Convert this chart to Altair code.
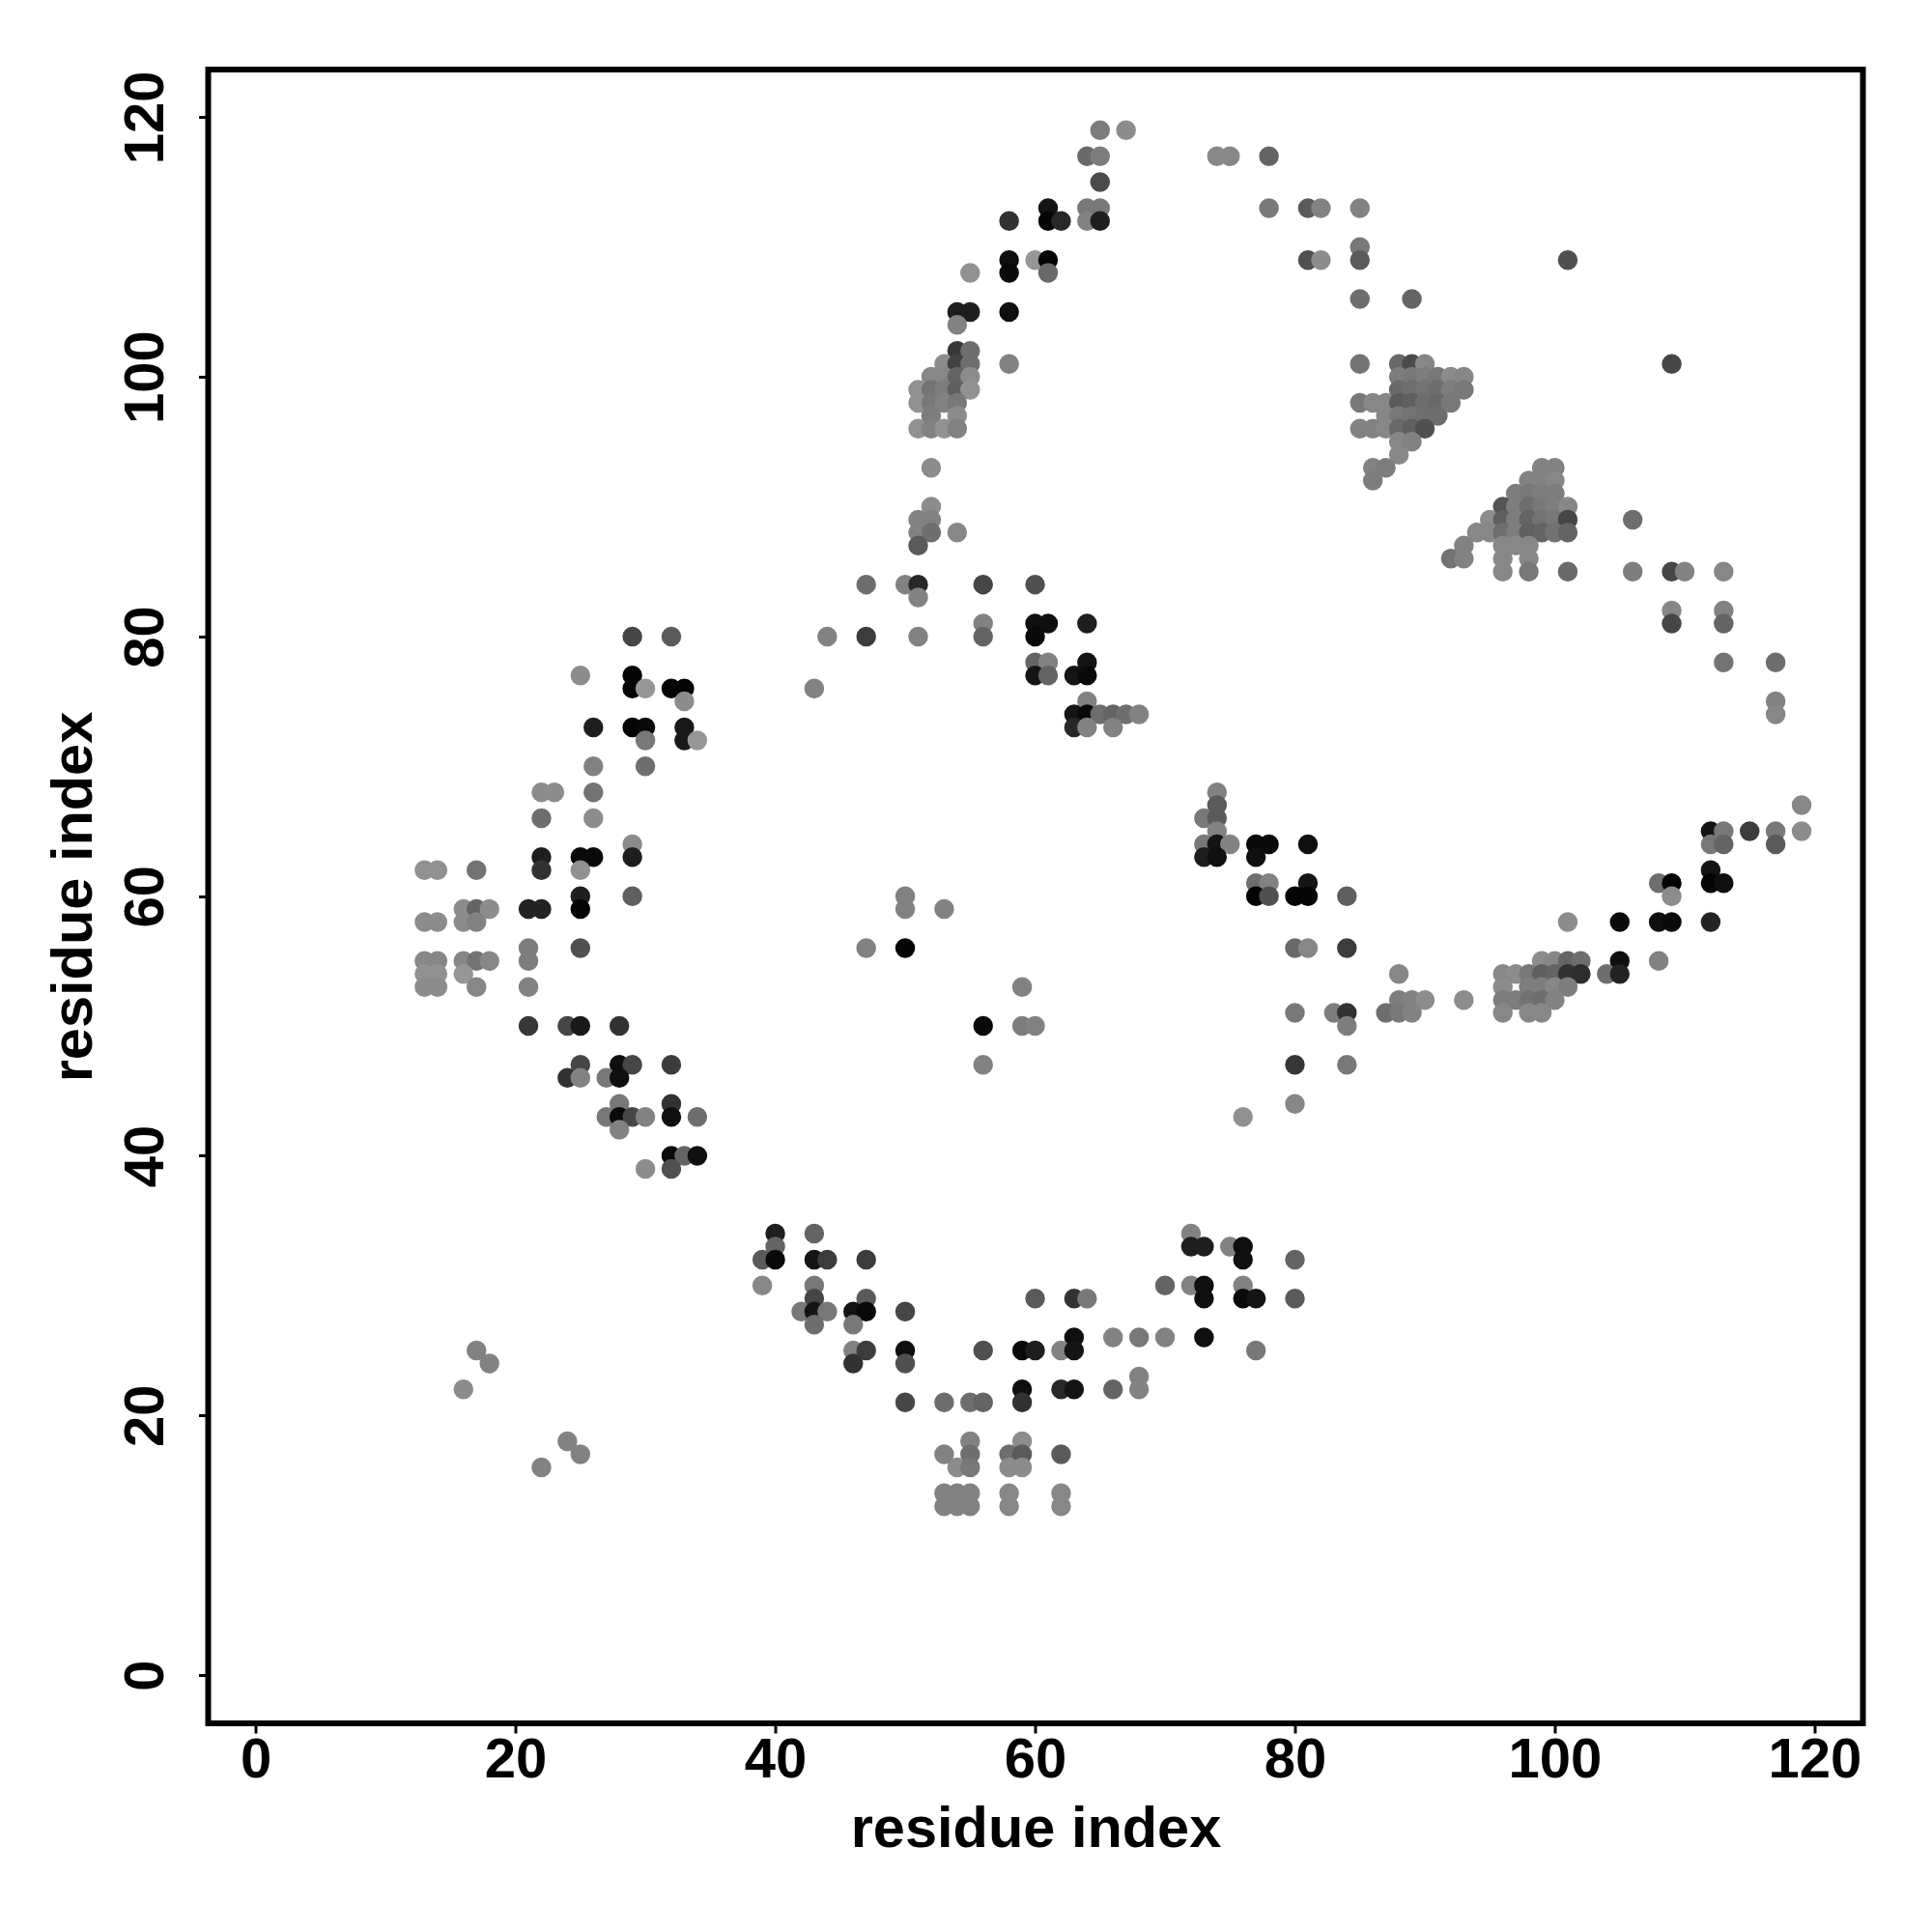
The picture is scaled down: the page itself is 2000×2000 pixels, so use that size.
import altair as alt
import pandas as pd

tick_values = [0, 20, 40, 60, 80, 100, 120]

rows_y = [119,117,115,113,112,110,109,108,106,105,104,102,101,100,99,98,97,96,95,94,93,92,91,90,89,88,87,86,85,84,83,82,81,80,78,77,76,75,74,73,72,70,68,67,66,65,64,63,62,61,60,59,58,56,55,54,53,52,51,50,47,46,44,43,42,40,39,34,33,32,30,29,28,27,26,25,24,23,22,21,18,17,16,14,13]

rows_x = [
 [65,67],
 [64,65,74,75,78],
 [65],
 [61,64,65,78,81,82,85],
 [58,61,62,64,65],
 [85],
 [58,60,61,81,82,85,101],
 [55,58,61],
 [85,89],
 [54,55,58],
 [54],
 [54,55],
 [53,54,55,58,85,88,89,90,109],
 [52,53,54,55,88,89,90,91,92,93],
 [51,52,53,54,55,88,89,90,91,92,93],
 [51,52,53,54,85,86,87,88,89,90,91,92],
 [52,54,87,88,89,90,91],
 [51,52,53,54,85,86,87,88,89,90],
 [88,89],
 [88],
 [52,86,87,99,100],
 [86,98,99,100],
 [97,98,99,100],
 [52,96,97,98,99,100,101],
 [51,52,95,96,97,98,99,100,101,106],
 [51,52,54,94,95,96,97,98,99,100,101],
 [51,93,96,97,98],
 [92,93,96,98],
 [96,98,101,106,109,110,113],
 [47,50,51,56,60],
 [51],
 [109,113],
 [56,60,61,64,109,113],
 [29,32,44,47,51,56,60],
 [60,61,64,113,117],
 [25,29,60,61,63,64],
 [29,30,32,33,43],
 [33,64,117],
 [63,64,65,66,67,68,117],
 [26,29,30,33,63,64,66],
 [30,33,34],
 [26,30],
 [22,23,26,74],
 [74,119],
 [22,26,73,74],
 [74,112,113,115,117,119],
 [29,73,74,75,77,78,81,112,113,117],
 [22,25,26,29,73,74,77],
 [13,14,17,22,25,112],
 [77,78,81,108,109,112,113],
 [25,29,50,77,78,80,81,84,109],
 [16,17,18,21,22,25,50,53],
 [13,14,16,17,101,105,108,109,112],
 [21,25,47,50,80,81,84],
 [13,14,16,17,18,21,99,100,101,102,105,108],
 [13,14,16,88,96,97,98,99,100,101,102,104,105],
 [13,14,17,21,59,96,98,99,100,101],
 [88,89,90,93,96,97,98,99,100],
 [80,83,84,87,88,89,96,98,99],
 [21,24,25,28,56,59,60,84],
 [25,28,29,32,56,80,84],
 [24,25,27,28],
 [28,32,80],
 [27,28,29,30,32,34,76],
 [28],
 [32,33,34],
 [30,32],
 [40,43,72],
 [40,72,73,75,76],
 [39,40,43,44,47,76,80],
 [39,43,70,72,73,76],
 [43,47,60,63,64,73,76,77,80],
 [42,43,44,46,47,50],
 [43,46],
 [63,66,68,70,73],
 [17,46,47,50,56,59,60,62,63,77],
 [18,46,50],
 [68],
 [16,59,62,63,66,68],
 [50,53,55,56,59],
 [24,55,59],
 [25,53,55,58,59,62],
 [22,54,55,58,59],
 [53,54,55,58,62],
 [53,54,55,58,62],
]

rows_grey = [
 [125,140],
 [105,125,135,135,100],
 [75],
 [20,120,120,120,90,130,130],
 [50,5,40,130,30],
 [120],
 [15,150,5,80,140,90,80],
 [145,10,105],
 [110,100],
 [30,30,15],
 [130],
 [55,110],
 [140,65,110,130,115,105,75,135,70],
 [135,135,100,140,125,120,125,120,140,135],
 [145,115,125,95,145,105,110,115,110,125,120],
 [145,120,130,120,120,135,135,90,95,110,105,120],
 [125,140,135,120,115,110,110],
 [145,130,145,130,130,130,135,105,95,80],
 [135,130],
 [135],
 [140,130,125,130,130],
 [125,130,130,135],
 [125,120,125,125],
 [140,85,125,110,120,125,135],
 [130,130,140,95,125,100,115,120,70,110],
 [130,110,135,135,135,110,125,95,100,115,100],
 [90,130,135,135,135],
 [115,130,135,135],
 [135,120,105,125,70,130,135],
 [110,130,40,70,80],
 [130],
 [135,130],
 [130,15,15,30,70,100],
 [70,90,130,60,130,100,10],
 [100,130,20,115,110],
 [140,5,20,100,20,10],
 [5,150,5,5,130],
 [140,130,130],
 [20,10,110,100,110,130,135],
 [30,5,10,25,40,130,130],
 [120,25,150],
 [130,110],
 [140,140,115,130],
 [90,135],
 [110,140,120,90],
 [130,20,120,60,120,140],
 [140,120,20,130,10,10,15,120,100,90],
 [30,10,10,30,30,15,15],
 [145,145,115,50,145,20],
 [110,130,20,110,5,5,15],
 [30,95,130,5,80,5,5,95,140],
 [140,100,140,35,35,5,130,130],
 [140,140,140,130,140,10,15,10,35],
 [125,80,130,5,105,135,60],
 [135,135,135,115,135,125,140,135,100,110,15,130],
 [145,145,150,135,135,140,120,95,100,50,45,110,35],
 [140,140,135,130,130,140,125,125,135,125],
 [125,130,140,140,125,125,115,110,130],
 [120,125,50,110,120,130,135,135,135],
 [55,70,25,50,10,125,130,125],
 [70,15,70,60,130,55,120],
 [50,130,120,15],
 [120,50,135],
 [120,10,70,130,15,110,145],
 [130],
 [10,100,15],
 [140,80],
 [30,100,130],
 [100,30,30,130,15],
 [90,10,20,60,60,15,100],
 [135,120,100,130,15,130],
 [70,90,90,50,120,15,10,20,90],
 [120,20,120,20,10,70],
 [110,120],
 [15,130,120,130,15],
 [130,130,60,15,80,10,30,130,20,120],
 [130,50,80],
 [130],
 [140,15,40,20,100,130],
 [70,110,110,100,50],
 [130,130,140],
 [130,130,110,110,90,90],
 [130,140,120,140,140],
 [130,130,130,135,135],
 [130,130,130,135,135],
]

records = []
for y, xs, gs in zip(rows_y, rows_x, rows_grey):
    for x, g in zip(xs, gs):
        records.append({"i": x, "j": y, "c": f"#{g:02x}{g:02x}{g:02x}"})
df = pd.DataFrame(records)

FONT = "Liberation Sans"

def axis():
    return dict(
        values=tick_values, format="d", grid=False, domain=False,
        tickColor="black", tickWidth=3, tickSize=10,
        labelFont=FONT, labelFontSize=58, labelFontWeight="bold", labelColor="black",
        titleFont=FONT, titleFontSize=59.5, titleFontWeight="bold", titleColor="black",
        title="residue index",
    )

chart = (
    alt.Chart(df)
    .mark_circle(size=420, opacity=1)
    .encode(
        x=alt.X("i:Q", scale=alt.Scale(domain=[-3.65, 123.72], nice=False, zero=False),
                axis=alt.Axis(labelPadding=-1, titlePadding=13, **axis())),
        y=alt.Y("j:Q", scale=alt.Scale(domain=[-3.72, 123.67], nice=False, zero=False),
                axis=alt.Axis(labelAngle=270, labelAlign="center", labelBaseline="bottom",
                              labelPadding=25, titlePadding=16, **axis())),
        color=alt.Color("c:N", scale=None, legend=None),
    )
    .properties(width=1713, height=1712, background="white",
                padding={"left": 38.5, "top": 64, "right": 20, "bottom": 20})
    .configure_view(stroke="black", strokeWidth=6)
)

chart.save("out.html", embed_options={"renderer": "svg", "actions": False})
